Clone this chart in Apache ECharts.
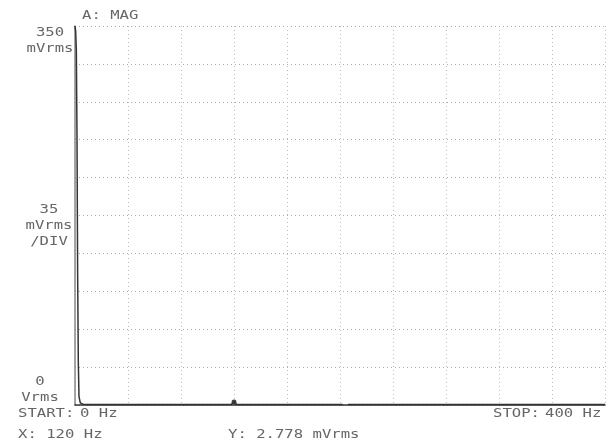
<!DOCTYPE html>
<html>
<head>
<meta charset="utf-8">
<script src="https://cdn.jsdelivr.net/npm/echarts@6/dist/echarts.min.js"></script>
<style>html,body{margin:0;padding:0;background:#fff;}#c{width:608px;height:447px;}</style>
</head>
<body>
<div id="c"></div>
<script>
// Frequency (Hz) and magnitude (mVrms)
const freqs = [0, 0.5, 1, 1.5, 2, 2.5, 3, 4, 6, 10, 20, 40, 60, 80, 100, 115, 118, 119, 120, 121, 122, 125, 140, 160, 180, 202, 204, 206, 220, 240, 280, 320, 360, 400];
const mags  = [350, 345, 328, 250, 120, 40, 8, 2, 0.8, 0.5, 0.4, 0.4, 0.4, 0.4, 0.4, 0.4, 0.6, 1.5, 2.778, 1.5, 0.6, 0.4, 0.4, 0.4, 0.4, 0.4, null, 0.4, 0.4, 0.4, 0.4, 0.4, 0.4, 0.4];
const marker = [[120, 2.778]];
const yLabels = [
  { lines: ['350', 'mVrms'], x: 50, y: 33 },
  { lines: ['35', 'mVrms', '/DIV'], x: 49, y: 210 },
  { lines: ['0', 'Vrms'], x: 40, y: 382 }
];
const infoTexts = [
  { text: 'A: MAG', x: 82, y: 16 },
  { text: 'START:', x: 18, y: 414 },
  { text: '0 Hz', x: 80, y: 414 },
  { text: 'STOP:', x: 493, y: 414 },
  { text: '400 Hz', x: 545, y: 414 },
  { text: 'X: 120 Hz', x: 18, y: 435 },
  { text: 'Y: 2.778 mVrms', x: 228, y: 435 }
];

const font = '12px "DejaVu Sans Mono", monospace';
const txtColor = '#666';
const graphics = [];
yLabels.forEach(l => {
  l.lines.forEach((s, i) => {
    graphics.push({ type: 'text', x: l.x, y: l.y + i * 16, scaleX: 1.3,
      style: { text: s, font: font, fill: txtColor, textAlign: 'center', textVerticalAlign: 'middle' } });
  });
});
infoTexts.forEach(t => {
  graphics.push({ type: 'text', x: t.x, y: t.y, scaleX: 1.3,
    style: { text: t.text, font: font, fill: txtColor, textAlign: 'left', textVerticalAlign: 'middle' } });
});

const chart = echarts.init(document.getElementById('c'), null, { renderer: 'canvas' });
chart.setOption({
  backgroundColor: '#fff',
  animation: false,
  grid: { left: 75, right: 3, top: 26, bottom: 42 },
  xAxis: {
    type: 'value', min: 0, max: 400, interval: 40,
    axisLine: { show: true, onZero: false, lineStyle: { color: '#333', width: 1.5 } },
    axisTick: { show: false }, axisLabel: { show: false },
    splitLine: { show: true, lineStyle: { color: '#bbb', type: [1, 3], width: 1 } }
  },
  yAxis: {
    type: 'value', min: 0, max: 350, interval: 35,
    axisLine: { show: true, lineStyle: { color: '#888', width: 1.5 } },
    axisTick: { show: false }, axisLabel: { show: false },
    splitLine: { show: true, lineStyle: { color: '#aaa', type: [1, 3], width: 1 } }
  },
  graphic: graphics,
  series: [
    {
      type: 'line', data: freqs.map((f, i) => [f, mags[i]]),
      showSymbol: false, connectNulls: false, clip: true,
      lineStyle: { color: '#333', width: 1.5 }
    },
    {
      type: 'scatter', data: marker, symbolSize: 5,
      itemStyle: { color: '#111' }
    }
  ]
});
</script>
</body>
</html>
